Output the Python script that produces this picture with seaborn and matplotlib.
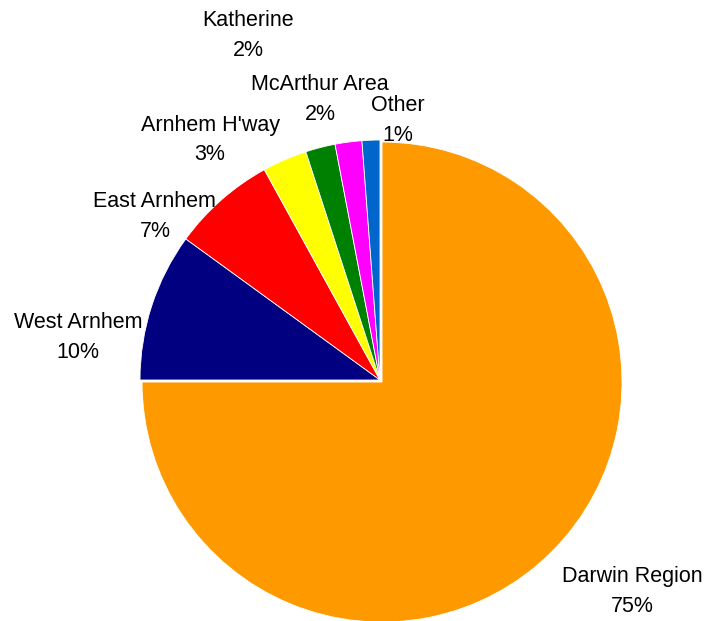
import matplotlib
matplotlib.use("Agg")
import matplotlib.pyplot as plt
import seaborn as sns

categories = ["Darwin Region", "West Arnhem", "East Arnhem", "Arnhem H'way",
              "Katherine", "McArthur Area", "Other"]
values = [75, 10, 7, 3, 2, 1.8, 1.2]
colors = ["#FF9900", "#000080", "#FF0000", "#FFFF00", "#008000", "#FF00FF", "#0066CC"]

# label block centres in pie-radius units (pie centre = 0,0)
label_pos = [(1.05, -0.883), (-1.258, 0.175), (-0.938, 0.683), (-0.708, 1.0),
             (-0.55, 1.4375), (-0.25, 1.167), (0.075, 1.083)]

sns.set_theme(style="white")
plt.rcParams["font.family"] = ["Liberation Sans", "DejaVu Sans"]

fig = plt.figure(figsize=(7.04, 6.21), dpi=100)
ax = fig.add_axes([0, 0, 1, 1])
palette = sns.color_palette(colors)
explode = [0.012] + [0] * (len(values) - 1)
ax.pie(values, colors=palette, startangle=90, counterclock=False, explode=explode,
       wedgeprops=dict(edgecolor="white", linewidth=0.6))

total = sum(values)
half_gap = 15 / 240  # half the distance between the two label lines
for cat, v, (x, y) in zip(categories, values, label_pos):
    ax.text(x, y + half_gap, cat, ha="center", va="center",
            fontsize=15.5, color="black")
    ax.text(x, y - half_gap, f"{round(v / total * 100):.0f}%", ha="center", va="center",
            fontsize=15.5, color="black")

ax.set_aspect("auto")
ax.set_xlim(-380 / 240, (704 - 380) / 240)
ax.set_ylim((380 - 621) / 240, 380 / 240)
ax.axis("off")
fig.savefig("out.png", dpi=100, facecolor="white")
